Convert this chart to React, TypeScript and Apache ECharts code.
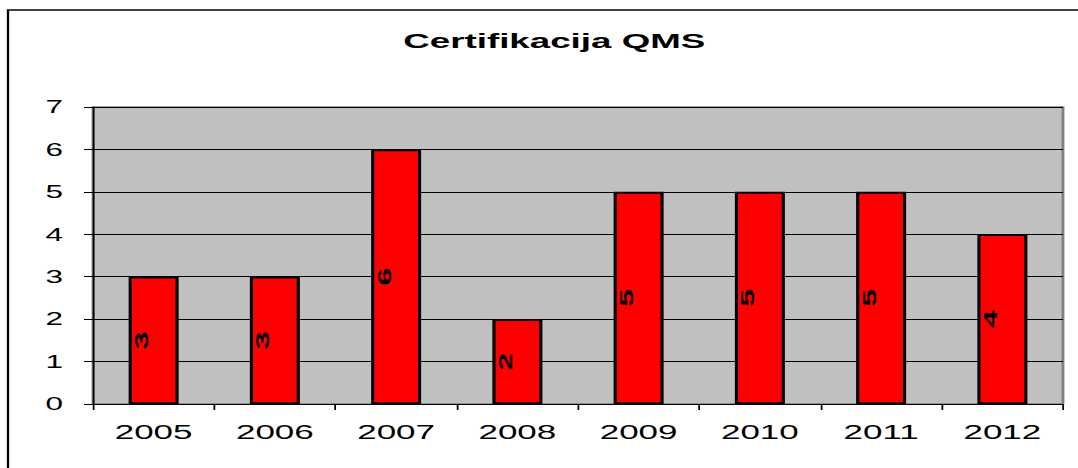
import React, { useEffect, useRef } from "react";
import * as echarts from "echarts";

const categories: string[] = ["2005", "2006", "2007", "2008", "2009", "2010", "2011", "2012"];
const certifications: number[] = [3, 3, 6, 2, 5, 5, 5, 4];
const yTicks = { min: 0, max: 7, interval: 1 };
const titleText = "Certifikacija QMS";

// The original picture is stretched horizontally; we reproduce that with a CSS scaleX.
const STRETCH = 1.75;
const FULL_W = 1078;
const FULL_H = 468;
const INNER_W = FULL_W / STRETCH;

const FONT = 'Arial, "Liberation Sans", sans-serif';

export default function App() {
  const ref = useRef<HTMLDivElement>(null);

  useEffect(() => {
    if (!ref.current) return;
    const chart = echarts.init(ref.current, undefined, { renderer: "svg" });
    const labelDx = -12 / STRETCH;

    chart.setOption({
      animation: false,
      backgroundColor: "#ffffff",
      title: {
        text: titleText,
        left: 545.5 / STRETCH,
        top: 25,
        textAlign: "center",
        textStyle: { fontFamily: FONT, fontWeight: "bold", fontSize: 21, color: "#000" },
      },
      graphic: [
        {
          type: "rect",
          shape: { x: 8 / STRETCH, y: 10, width: 800, height: 700 },
          style: { fill: "none", stroke: "#000", lineWidth: 1.3 },
          silent: true,
          z: 0,
        },
      ],
      grid: {
        left: 93 / STRETCH,
        right: INNER_W - 1063 / STRETCH,
        top: 107,
        bottom: 64,
        show: true,
        backgroundColor: "#C0C0C0",
        borderColor: "#808080",
        borderWidth: 1.6,
      },
      xAxis: {
        type: "category",
        data: categories,
        boundaryGap: true,
        axisLine: { show: true, lineStyle: { color: "#000", width: 1 } },
        axisTick: { show: true, alignWithLabel: false, length: 6, lineStyle: { color: "#000" } },
        axisLabel: { fontFamily: FONT, fontSize: 20, color: "#000", margin: 18 },
        splitLine: { show: false },
      },
      yAxis: {
        type: "value",
        min: yTicks.min,
        max: yTicks.max,
        interval: yTicks.interval,
        axisLine: { show: true, lineStyle: { color: "#000", width: 1 } },
        axisTick: { show: true, length: 9 / STRETCH, lineStyle: { color: "#000" } },
        axisLabel: { fontFamily: FONT, fontSize: 18, color: "#000", margin: 30 / STRETCH },
        splitLine: { show: true, lineStyle: { color: "#000", width: 1 } },
      },
      series: [
        {
          type: "bar",
          data: certifications,
          barWidth: 50 / STRETCH,
          itemStyle: { color: "#FF0000", borderColor: "#000", borderWidth: 1.8 },
          z: 2,
        },
        {
          type: "custom",
          z: 5,
          data: certifications.map((v, i) => [i, v]),
          renderItem: (params: any, api: any) => {
            const c = api.value(0);
            const v = api.value(1);
            const top = api.coord([c, v]);
            const base = api.coord([c, 0]);
            return {
              type: "text",
              x: top[0] + labelDx,
              y: (top[1] + base[1]) / 2,
              rotation: Math.PI / 2,
              scaleX: 2.0,
              scaleY: 0.68,
              style: {
                text: String(v),
                fill: "#000",
                font: `bold 16px ${FONT}`,
                align: "center",
                verticalAlign: "middle",
              },
            };
          },
        },
      ],
    });

    return () => {
      chart.dispose();
    };
  }, []);

  return (
    <div
      style={{
        position: "fixed",
        left: 0,
        top: 0,
        width: FULL_W,
        height: FULL_H,
        overflow: "hidden",
        background: "#fff",
      }}
    >
      <div
        ref={ref}
        style={{
          width: INNER_W,
          height: FULL_H,
          transform: `scaleX(${STRETCH})`,
          transformOrigin: "0 0",
        }}
      />
    </div>
  );
}
